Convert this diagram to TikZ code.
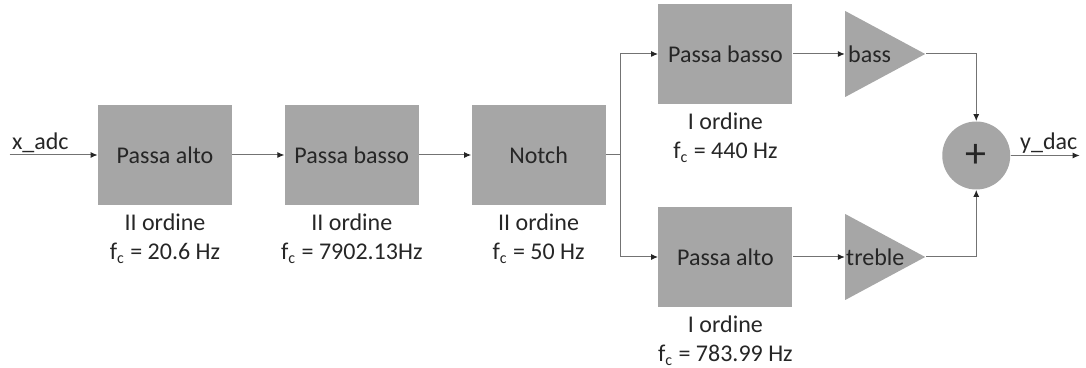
\documentclass[tikz,border=0pt]{standalone}
\usepackage{fontspec}
\setmainfont{Carlito}
\usetikzlibrary{arrows.meta, positioning, shapes.geometric, calc}

\begin{document}
\begin{tikzpicture}[
  node distance=26pt,
  every node/.style={align=center, font=\fontsize{12}{14.5}\selectfont, text=black!85},
  block/.style={rectangle, fill=black!35, minimum width=67pt, minimum height=50pt, inner sep=0pt},
  note/.style={inner sep=1pt},
  % for this shape the height runs from base to apex
  amp/.style={isosceles triangle, isosceles triangle stretches, shape border rotate=0, fill=black!35, minimum width=43pt, minimum height=40pt, inner sep=0pt},
  sum/.style={circle, fill=black!35, minimum size=34pt, inner sep=0pt},
  wire/.style={draw=black!55, line width=0.5pt},
  arrow/.style={wire, -{Latex[length=3.5pt, width=3pt, color=black!85]}}
]
\useasboundingbox (0,0) rectangle (543pt,-184pt);

% Nodes
\node[block] (hp1) at (82.5pt,-77.5pt) {Passa alto};
\node[block, right=of hp1] (lp1) {Passa basso};
\node[block, right=of lp1] (notch) {Notch};
\node[block, right=of notch, yshift=50.5pt] (lp2) {Passa basso};
\node[block, right=of notch, yshift=-51pt] (hp2) {Passa alto};
\node[amp, right=of lp2] (bass) {};
\node[amp, right=of hp2] (treble) {};
\node[sum] (sum) at ([xshift=25pt]$(bass.apex)!.5!(treble.apex)$) {\fontsize{21}{21}\selectfont +};

% Labels
\node[note, below=3pt of hp1] (hp1note) {II ordine\\f\textsubscript{c} = 20.6 Hz};
\node[note, below=3pt of lp1] (lp1note) {II ordine\\f\textsubscript{c} = 7902.13Hz};
\node[note, below=3pt of notch] (notchnote) {II ordine\\f\textsubscript{c} = 50 Hz};
\node[note, below=3pt of lp2] (lp2note) {I ordine\\f\textsubscript{c} = 440 Hz};
\node[note, below=3pt of hp2] (hp2note) {I ordine\\f\textsubscript{c} = 783.99 Hz};
\node[anchor=west, inner sep=1.5pt] (basslabel) at (bass.west) {bass};
\node[anchor=west, inner sep=0.5pt] (treblelabel) at (treble.west) {treble};

% Input and output
\coordinate (in) at ([xshift=-44pt]hp1.west);
\coordinate (out) at ([xshift=34.5pt]sum.east);
\node[above right, inner sep=1pt] (inlabel) at (in) {x\_adc};
\node[above left, inner sep=1pt] (outlabel) at (out) {y\_dac};

% Arrows
\draw[arrow] (in) -- (hp1);
\draw[arrow] (hp1) -- (lp1);
\draw[arrow] (lp1) -- (notch);
\draw[wire] (notch.east) -- ++(7pt,0) coordinate (split);
\draw[arrow] (split) |- (lp2);
\draw[arrow] (split) |- (hp2);
\draw[arrow] (lp2) -- (bass);
\draw[arrow] (hp2) -- (treble);
\draw[arrow] (bass.apex) -| (sum);
\draw[arrow] (treble.apex) -| (sum);
\draw[arrow] (sum) -- (out);

\end{tikzpicture}
\end{document}
